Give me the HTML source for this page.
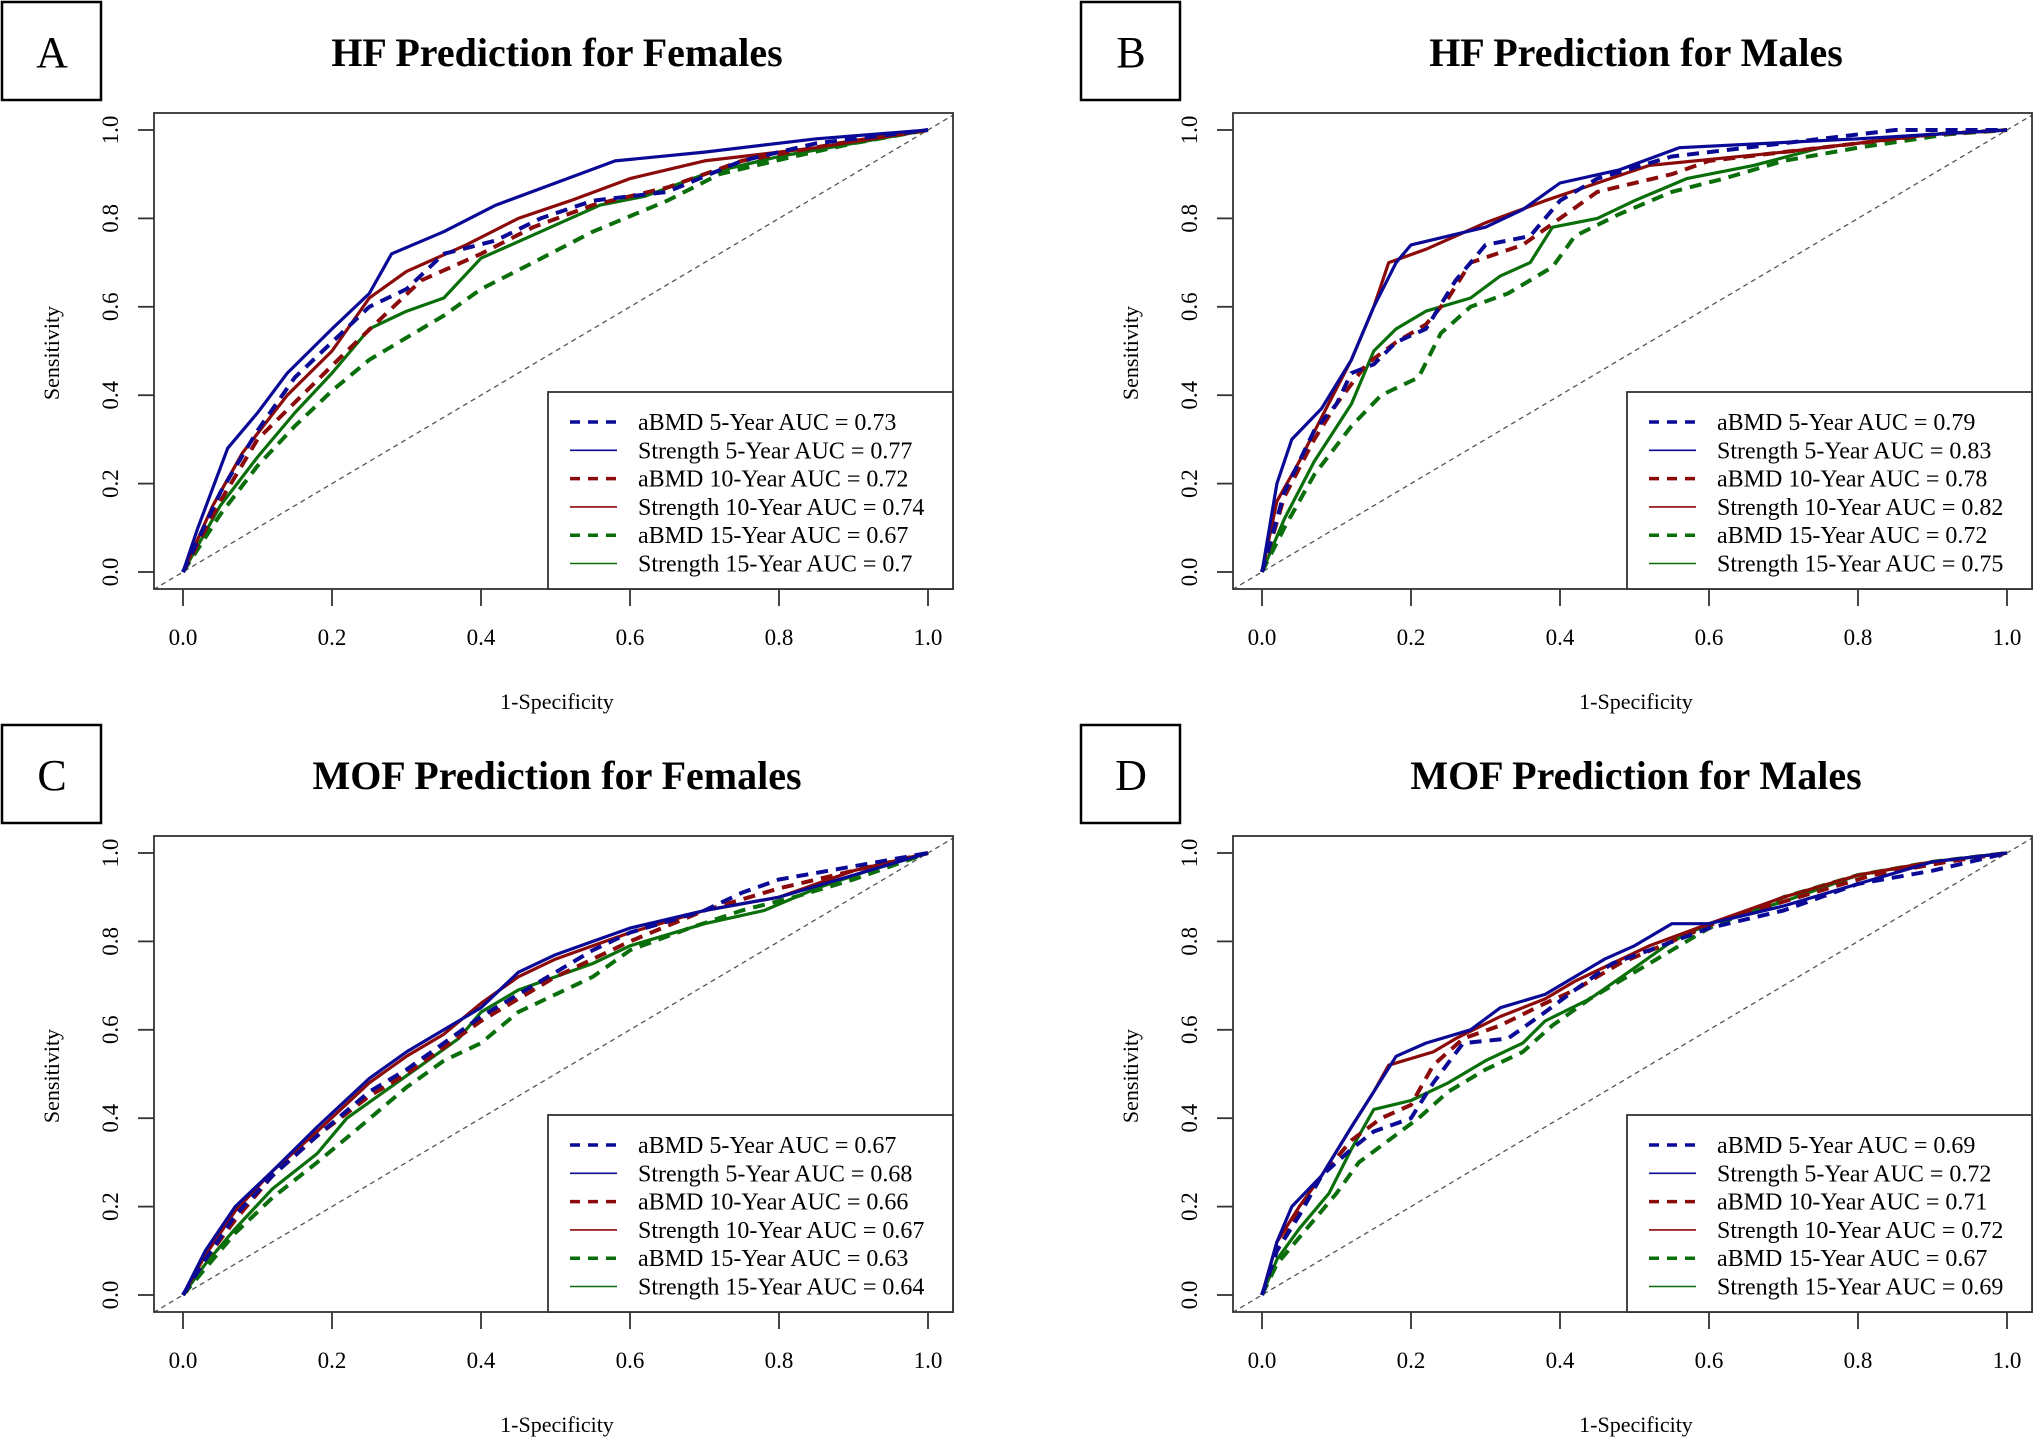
<!DOCTYPE html>
<html><head><meta charset="utf-8"><style>
html,body{margin:0;padding:0;background:#fff;}
svg{display:block;font-family:"Liberation Serif","Times New Roman",serif;}
</style></head><body>
<svg id="fig" width="2034" height="1437" viewBox="0 0 2034 1437" xmlns="http://www.w3.org/2000/svg"></svg>
<script>
// ---------- data (FPR = 1-Specificity, TPR = Sensitivity) ----------
var panelTitles = ["HF Prediction for Females","HF Prediction for Males","MOF Prediction for Females","MOF Prediction for Males"];
var panelLetters = ["A","B","C","D"];
var seriesNames = ["aBMD 5-Year","Strength 5-Year","aBMD 10-Year","Strength 10-Year","aBMD 15-Year","Strength 15-Year"];
var aucA = ["0.73","0.77","0.72","0.74","0.67","0.7"];
var aucB = ["0.79","0.83","0.78","0.82","0.72","0.75"];
var aucC = ["0.67","0.68","0.66","0.67","0.63","0.64"];
var aucD = ["0.69","0.72","0.71","0.72","0.67","0.69"];
var tickLabels = ["0.0","0.2","0.4","0.6","0.8","1.0"];
var tickValues = [0,0.2,0.4,0.6,0.8,1.0];

// Panel A
var A_b5_x=[0,0.05,0.1,0.15,0.2,0.25,0.3,0.35,0.42,0.48,0.55,0.65,0.75,0.85,1];
var A_b5_y=[0,0.18,0.32,0.44,0.52,0.6,0.64,0.72,0.75,0.8,0.84,0.86,0.93,0.97,1];
var A_s5_x=[0,0.02,0.06,0.1,0.14,0.2,0.25,0.28,0.35,0.42,0.5,0.58,0.7,0.85,1];
var A_s5_y=[0,0.1,0.28,0.36,0.45,0.55,0.63,0.72,0.77,0.83,0.88,0.93,0.95,0.98,1];
var A_b10_x=[0,0.05,0.1,0.16,0.22,0.27,0.32,0.4,0.47,0.55,0.65,0.75,0.88,1];
var A_b10_y=[0,0.16,0.3,0.4,0.5,0.58,0.66,0.72,0.78,0.83,0.87,0.93,0.97,1];
var A_s10_x=[0,0.04,0.08,0.14,0.2,0.25,0.3,0.38,0.45,0.52,0.6,0.7,0.85,1];
var A_s10_y=[0,0.15,0.27,0.4,0.5,0.62,0.68,0.74,0.8,0.84,0.89,0.93,0.96,1];
var A_b15_x=[0,0.05,0.1,0.15,0.2,0.25,0.3,0.35,0.4,0.47,0.55,0.65,0.72,0.82,0.9,1];
var A_b15_y=[0,0.13,0.24,0.33,0.41,0.48,0.53,0.58,0.64,0.7,0.77,0.84,0.9,0.94,0.97,1];
var A_s15_x=[0,0.05,0.1,0.15,0.2,0.25,0.3,0.35,0.4,0.48,0.56,0.62,0.7,0.8,0.9,1];
var A_s15_y=[0,0.15,0.26,0.36,0.45,0.55,0.59,0.62,0.71,0.77,0.83,0.85,0.9,0.94,0.97,1];
// Panel B
var B_b5_x=[0,0.03,0.07,0.1,0.12,0.15,0.18,0.22,0.26,0.3,0.36,0.4,0.45,0.55,0.65,0.85,1];
var B_b5_y=[0,0.18,0.32,0.38,0.45,0.47,0.52,0.55,0.66,0.74,0.76,0.84,0.89,0.94,0.96,1,1];
var B_s5_x=[0,0.02,0.04,0.08,0.12,0.15,0.18,0.2,0.3,0.35,0.4,0.48,0.56,0.8,1];
var B_s5_y=[0,0.2,0.3,0.37,0.48,0.6,0.7,0.74,0.78,0.82,0.88,0.91,0.96,0.98,1];
var B_b10_x=[0,0.03,0.07,0.1,0.14,0.18,0.22,0.25,0.28,0.35,0.4,0.45,0.55,0.6,0.75,0.9,1];
var B_b10_y=[0,0.17,0.3,0.38,0.47,0.52,0.56,0.62,0.7,0.74,0.8,0.86,0.9,0.93,0.96,0.99,1];
var B_s10_x=[0,0.02,0.05,0.08,0.12,0.15,0.17,0.22,0.3,0.38,0.45,0.52,0.7,0.9,1];
var B_s10_y=[0,0.16,0.25,0.35,0.48,0.6,0.7,0.73,0.79,0.84,0.88,0.92,0.95,0.99,1];
var B_b15_x=[0,0.03,0.07,0.12,0.16,0.21,0.24,0.28,0.33,0.39,0.42,0.48,0.55,0.62,0.7,0.8,0.92,1];
var B_b15_y=[0,0.1,0.22,0.33,0.4,0.44,0.54,0.6,0.63,0.69,0.76,0.81,0.86,0.89,0.93,0.96,0.99,1];
var B_s15_x=[0,0.03,0.07,0.12,0.15,0.18,0.22,0.28,0.32,0.36,0.39,0.45,0.5,0.57,0.66,0.75,0.9,1];
var B_s15_y=[0,0.12,0.25,0.38,0.5,0.55,0.59,0.62,0.67,0.7,0.78,0.8,0.84,0.89,0.92,0.96,0.99,1];
// Panel C
var C_b5_x=[0,0.03,0.07,0.12,0.18,0.25,0.3,0.35,0.4,0.45,0.5,0.55,0.6,0.7,0.75,0.8,0.9,1];
var C_b5_y=[0,0.08,0.18,0.27,0.36,0.46,0.51,0.57,0.63,0.68,0.73,0.78,0.82,0.87,0.91,0.94,0.97,1];
var C_s5_x=[0,0.03,0.07,0.12,0.18,0.25,0.3,0.35,0.4,0.45,0.5,0.55,0.6,0.7,0.8,0.9,1];
var C_s5_y=[0,0.1,0.2,0.28,0.38,0.49,0.55,0.6,0.65,0.73,0.77,0.8,0.83,0.87,0.9,0.95,1];
var C_b10_x=[0,0.03,0.07,0.12,0.18,0.25,0.3,0.35,0.4,0.45,0.5,0.55,0.6,0.7,0.8,0.9,1];
var C_b10_y=[0,0.08,0.17,0.27,0.36,0.45,0.5,0.56,0.62,0.67,0.72,0.76,0.8,0.87,0.92,0.96,1];
var C_s10_x=[0,0.03,0.07,0.12,0.18,0.25,0.3,0.35,0.4,0.45,0.5,0.55,0.6,0.7,0.8,0.9,1];
var C_s10_y=[0,0.09,0.19,0.28,0.37,0.48,0.54,0.59,0.66,0.72,0.76,0.79,0.82,0.87,0.9,0.96,1];
var C_b15_x=[0,0.03,0.07,0.12,0.18,0.23,0.3,0.35,0.4,0.45,0.5,0.55,0.6,0.68,0.75,0.82,0.9,1];
var C_b15_y=[0,0.06,0.14,0.22,0.3,0.37,0.47,0.53,0.57,0.64,0.68,0.72,0.78,0.83,0.87,0.9,0.94,1];
var C_s15_x=[0,0.03,0.07,0.12,0.18,0.22,0.27,0.32,0.37,0.4,0.45,0.5,0.55,0.6,0.7,0.78,0.85,0.92,1];
var C_s15_y=[0,0.07,0.15,0.24,0.32,0.4,0.46,0.52,0.58,0.64,0.69,0.72,0.75,0.79,0.84,0.87,0.92,0.96,1];
// Panel D
var D_b5_x=[0,0.02,0.05,0.08,0.12,0.15,0.2,0.23,0.27,0.33,0.38,0.42,0.47,0.52,0.6,0.7,0.8,0.9,1];
var D_b5_y=[0,0.1,0.18,0.27,0.33,0.37,0.4,0.48,0.57,0.58,0.64,0.69,0.75,0.78,0.83,0.87,0.93,0.96,1];
var D_s5_x=[0,0.02,0.04,0.08,0.12,0.15,0.18,0.22,0.28,0.32,0.38,0.42,0.46,0.5,0.55,0.6,0.7,0.8,0.9,1];
var D_s5_y=[0,0.12,0.2,0.27,0.38,0.46,0.54,0.57,0.6,0.65,0.68,0.72,0.76,0.79,0.84,0.84,0.88,0.93,0.98,1];
var D_b10_x=[0,0.02,0.05,0.08,0.12,0.16,0.2,0.23,0.27,0.32,0.38,0.42,0.48,0.55,0.62,0.72,0.82,0.92,1];
var D_b10_y=[0,0.1,0.19,0.27,0.35,0.4,0.43,0.52,0.58,0.61,0.66,0.69,0.75,0.8,0.85,0.9,0.95,0.98,1];
var D_s10_x=[0,0.02,0.05,0.08,0.12,0.15,0.17,0.23,0.26,0.32,0.38,0.42,0.47,0.52,0.6,0.7,0.8,0.9,1];
var D_s10_y=[0,0.12,0.2,0.27,0.38,0.46,0.52,0.55,0.58,0.63,0.67,0.71,0.75,0.79,0.84,0.9,0.95,0.98,1];
var D_b15_x=[0,0.02,0.05,0.1,0.13,0.17,0.21,0.25,0.3,0.35,0.39,0.44,0.5,0.55,0.6,0.7,0.8,0.9,1];
var D_b15_y=[0,0.07,0.13,0.23,0.3,0.35,0.4,0.46,0.51,0.55,0.61,0.67,0.73,0.78,0.83,0.9,0.95,0.98,1];
var D_s15_x=[0,0.02,0.05,0.09,0.12,0.15,0.2,0.25,0.3,0.35,0.38,0.44,0.5,0.55,0.6,0.7,0.8,0.9,1];
var D_s15_y=[0,0.08,0.15,0.23,0.33,0.42,0.44,0.48,0.53,0.57,0.62,0.67,0.74,0.8,0.84,0.89,0.95,0.98,1];

var panelAucs=[aucA,aucB,aucC,aucD];
var panelSeries=[
 [[A_b5_x,A_b5_y],[A_s5_x,A_s5_y],[A_b10_x,A_b10_y],[A_s10_x,A_s10_y],[A_b15_x,A_b15_y],[A_s15_x,A_s15_y]],
 [[B_b5_x,B_b5_y],[B_s5_x,B_s5_y],[B_b10_x,B_b10_y],[B_s10_x,B_s10_y],[B_b15_x,B_b15_y],[B_s15_x,B_s15_y]],
 [[C_b5_x,C_b5_y],[C_s5_x,C_s5_y],[C_b10_x,C_b10_y],[C_s10_x,C_s10_y],[C_b15_x,C_b15_y],[C_s15_x,C_s15_y]],
 [[D_b5_x,D_b5_y],[D_s5_x,D_s5_y],[D_b10_x,D_b10_y],[D_s10_x,D_s10_y],[D_b15_x,D_b15_y],[D_s15_x,D_s15_y]]
];

// ---------- drawing ----------
var NS="http://www.w3.org/2000/svg";
var svg=document.getElementById('fig');
var colors=["#0a0a96","#0a0a96","#8b0a0a","#8b0a0a","#0a6e0a","#0a6e0a"];
var offsets=[[0,0],[1079,0],[0,723],[1079,723]];
function mk(tag,parent){var e=document.createElementNS(NS,tag);parent.appendChild(e);return e;}
function sa(e,o){for(var k in o)e.setAttribute(k,o[k]);return e;}

for(var p=0;p<4;p++){
  var ox=offsets[p][0], oy=offsets[p][1];
  var g=mk('g',svg);
  
  
  var X0=183+ox, X1=928+ox, Y0=572+oy, Y1=130+oy;
  var L=154+ox, R=953+ox, T=113+oy, B=589+oy;
  var sx=function(v){return X0+(X1-X0)*v;};
  var sy=function(v){return Y0+(Y1-Y0)*v;};
  // letter box
  var lb=mk('rect',g); sa(lb,{x:2+ox,y:2+oy,width:99,height:98,fill:'none',stroke:'#000','stroke-width':2.5});
  
  
  var lt=mk('text',g); sa(lt,{x:52+ox,y:67+oy,'text-anchor':'middle','font-size':44}); lt.textContent=panelLetters[p];
  
  
  // title
  var tt=mk('text',g); sa(tt,{x:557+ox,y:66+oy,'text-anchor':'middle','font-size':40,'font-weight':'bold'}); tt.textContent=panelTitles[p];
  
  
  // clip
  var cp=mk('clipPath',g); cp.setAttribute('id','clip'+p);
  sa(mk('rect',cp),{x:L,y:T,width:R-L,height:B-T});
  // diagonal
  var dg=mk('line',g); sa(dg,{x1:sx(-0.05),y1:sy(-0.05),x2:sx(1.05),y2:sy(1.05),stroke:'#555','stroke-width':1.3,'stroke-dasharray':'5,4','clip-path':'url(#clip'+p+')'});
  
  
  // series
  var order=[5,4,3,2,1,0];
  for(var oi=0;oi<6;oi++){
    var s=order[oi]; var xs=panelSeries[p][s][0], ys=panelSeries[p][s][1];
    var pts=[];
    for(var i=0;i<xs.length;i++){pts.push(sx(xs[i]).toFixed(1)+','+sy(ys[i]).toFixed(1));}
    var pl=mk('polyline',g);
    var dashed=(s%2===0);
    sa(pl,{points:pts.join(' '),fill:'none',stroke:colors[s],'stroke-width':dashed?4:3.2,'stroke-linejoin':'round'});
    if(dashed) pl.setAttribute('stroke-dasharray','12,8');
    
    
  }
  // plot box
  var bx=mk('rect',g); sa(bx,{x:L,y:T,width:R-L,height:B-T,fill:'none',stroke:'#333','stroke-width':1.8});
  
  
  // ticks
  for(var t=0;t<tickValues.length;t++){
    var xt=mk('line',g); sa(xt,{x1:sx(tickValues[t]),x2:sx(tickValues[t]),y1:B,y2:B+17,stroke:'#333','stroke-width':1.8});
    
    
    var xl=mk('text',g); sa(xl,{x:sx(tickValues[t]),y:645+oy,'text-anchor':'middle','font-size':23}); xl.textContent=tickLabels[t];
    
    
    var yt=mk('line',g); sa(yt,{x1:L-16,x2:L,y1:sy(tickValues[t]),y2:sy(tickValues[t]),stroke:'#333','stroke-width':1.8});
    
    
    var yl=mk('text',g); var yy=sy(tickValues[t]);
    sa(yl,{x:118+ox,y:yy,'text-anchor':'middle','font-size':23,transform:'rotate(-90 '+(118+ox)+' '+yy+')'}); yl.textContent=tickLabels[t];
    
    
  }
  var xa=mk('text',g); sa(xa,{x:557+ox,y:709+oy,'text-anchor':'middle','font-size':22}); xa.textContent='1-Specificity';
  
  
  var ya=mk('text',g); sa(ya,{x:59+ox,y:353+oy,'text-anchor':'middle','font-size':22,transform:'rotate(-90 '+(59+ox)+' '+(353+oy)+')'}); ya.textContent='Sensitivity';
  
  
  // legend
  var lg=mk('g',g);
  
  
  sa(mk('rect',lg),{x:548+ox,y:392+oy,width:R-548-ox,height:B-392-oy,fill:'#fff',stroke:'#333','stroke-width':1.8});
  for(var s2=0;s2<6;s2++){
    var ry=422+oy+s2*28.3;
    var ll=mk('line',lg); sa(ll,{x1:570+ox,x2:617+ox,y1:ry,y2:ry,stroke:colors[s2],'stroke-width':(s2%2===0)?3.5:1.6});
    if(s2%2===0) ll.setAttribute('stroke-dasharray','10,8');
    
    
    var lt2=mk('text',lg); sa(lt2,{x:638+ox,y:ry+8,'font-size':24}); lt2.textContent=seriesNames[s2]+' AUC = '+panelAucs[p][s2];
    
    
  }
}
</script>
</body></html>
